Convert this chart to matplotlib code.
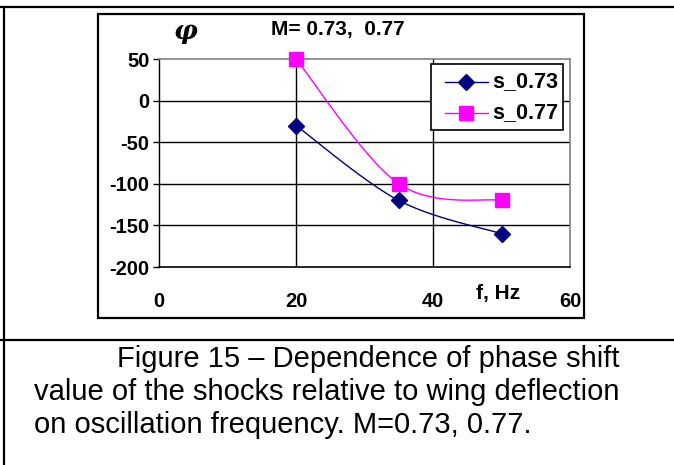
import numpy as np
import matplotlib
matplotlib.use("Agg")
import matplotlib.pyplot as plt
from matplotlib.lines import Line2D
from matplotlib.patches import Rectangle

# Data
freq = [20, 35, 50]
s_073 = [-30, -120, -160]
s_077 = [50, -100, -120]
x_ticks = [0, 20, 40, 60]
y_ticks = [50, 0, -50, -100, -150, -200]

W, H = 674, 465
DPI = 100


def smooth_curve(xs, ys, n=40):
    """Bezier smoothing through the points (spreadsheet-style smoothed line)."""
    P = np.column_stack([xs, ys]).astype(float)
    m = len(P)
    out = []
    for i in range(m - 1):
        p0 = P[i - 1] if i > 0 else P[i]
        p1 = P[i]
        p2 = P[i + 1]
        p3 = P[i + 2] if i + 2 < m else P[i + 1]
        c1 = p1 + (p2 - p0) / 6.0
        c2 = p2 - (p3 - p1) / 6.0
        t = np.linspace(0, 1, n)[:, None]
        seg = ((1 - t) ** 3) * p1 + 3 * ((1 - t) ** 2) * t * c1 + 3 * (1 - t) * t ** 2 * c2 + t ** 3 * p2
        out.append(seg if i == 0 else seg[1:])
    seg = np.vstack(out)
    return seg[:, 0], seg[:, 1]


fig = plt.figure(figsize=(W / DPI, H / DPI), dpi=DPI)
fig.patch.set_facecolor("white")


def px(x, y):
    return x / W, 1 - y / H


# Outer table frame
fig.add_artist(Line2D([0, 1], [1 - 7.5 / H] * 2, color="black", lw=1.6, transform=fig.transFigure))
fig.add_artist(Line2D([3.5 / W] * 2, [0, 1 - 7.5 / H], color="black", lw=1.6, transform=fig.transFigure))
fig.add_artist(Line2D([0, 1], [1 - 339.5 / H] * 2, color="black", lw=1.6, transform=fig.transFigure))

# Chart box
bx0, by0 = px(98, 318)
bx1, by1 = px(584, 14)
fig.add_artist(Rectangle((bx0, by0), bx1 - bx0, by1 - by0, fill=False,
                         edgecolor="black", lw=1.6, transform=fig.transFigure))

# Plot area
l, b = px(159, 267)
r, t = px(570, 59)
ax = fig.add_axes([l, b, r - l, t - b])
ax.set_xlim(0, 60)
ax.set_ylim(-200, 50)

for yv in y_ticks[1:-1]:
    ax.axhline(yv, color="black", lw=1.0, zorder=1)
for xv in x_ticks[1:-1]:
    ax.axvline(xv, color="black", lw=1.0, zorder=1)

for side in ("top", "right"):
    ax.spines[side].set_color("#808080")
    ax.spines[side].set_linewidth(1.2)
ax.spines["left"].set_color("black")
ax.spines["bottom"].set_color("black")
ax.spines["bottom"].set_linewidth(1.2)
ax.spines["left"].set_linewidth(1.0)

ax.set_yticks(y_ticks)
ax.set_yticklabels([str(v) for v in y_ticks])
ax.set_xticks(x_ticks)
ax.set_xticklabels([str(v) for v in x_ticks])
ax.tick_params(axis="y", direction="out", length=4, width=1, pad=3, labelsize=14.5)
ax.tick_params(axis="x", length=0, pad=18, labelsize=14.5)
for lab in ax.get_xticklabels() + ax.get_yticklabels():
    lab.set_fontfamily("Liberation Sans")
    lab.set_fontweight("bold")

cx, cy = smooth_curve(freq, s_073)
ax.plot(cx, cy, color="#000080", lw=1.0, zorder=3)
ax.plot(freq, s_073, linestyle="none", marker="D", color="#000080", markersize=8, zorder=4, clip_on=False)

cx, cy = smooth_curve(freq, s_077)
ax.plot(cx, cy, color="#FF00FF", lw=1.0, zorder=3)
ax.plot(freq, s_077, linestyle="none", marker="s", color="#FF00FF", markersize=10, zorder=4, clip_on=False)

# Titles
fig.text(*px(338, 30), "M= 0.73,  0.77", ha="center", va="center", fontsize=15,
         fontweight="bold", family="Liberation Sans")
fig.text(*px(186, 32), "φ", ha="center", va="center", fontsize=19,
         fontweight="bold", style="italic", family="DejaVu Serif")
fig.text(*px(498, 294), "f, Hz", ha="center", va="center", fontsize=15,
         fontweight="bold", family="Liberation Sans")

# Legend
lx0, ly0 = px(431, 130)
lx1, ly1 = px(563, 64)
fig.add_artist(Rectangle((lx0, ly0), lx1 - lx0, ly1 - ly0, facecolor="white",
                         edgecolor="black", lw=1.2, transform=fig.transFigure, zorder=5))
for yy, col, mk, ms, name in [(82, "#000080", "D", 8, "s_0.73"), (113, "#FF00FF", "s", 10, "s_0.77")]:
    fig.add_artist(Line2D([445 / W, 488 / W], [1 - yy / H] * 2, color=col, lw=1.0,
                          transform=fig.transFigure, zorder=6))
    fig.add_artist(Line2D([466 / W], [1 - yy / H], color=col, marker=mk, markersize=ms,
                          linestyle="none", transform=fig.transFigure, zorder=7))
    fig.text(*px(492, yy), name, ha="left", va="center", fontsize=15.5, fontweight="bold",
             family="Liberation Sans", zorder=7)

# Caption
cap_kw = dict(fontsize=21, family="Liberation Sans", ha="left", va="baseline")
fig.text(*px(117, 367), "Figure 15 – Dependence of phase shift", **cap_kw)
fig.text(*px(34, 400), "value of the shocks relative to wing deflection", **cap_kw)
fig.text(*px(34, 433), "on oscillation frequency. M=0.73, 0.77.", **cap_kw)

fig.savefig("out.png", dpi=DPI)
